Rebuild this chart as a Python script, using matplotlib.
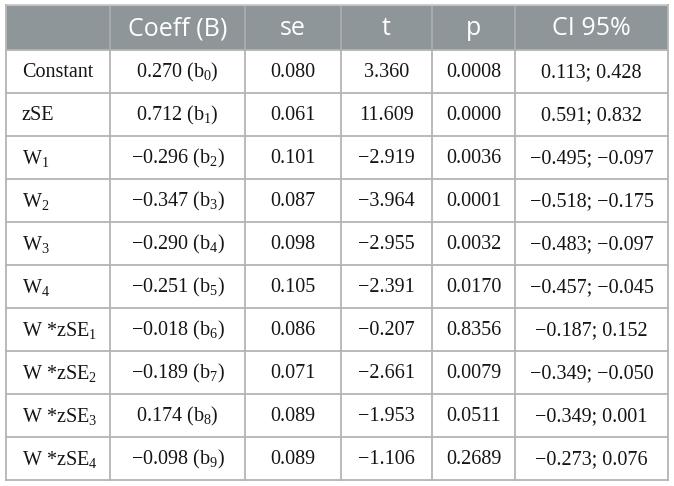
import matplotlib
matplotlib.use("Agg")
import matplotlib.pyplot as plt
from matplotlib.patches import Rectangle

# regression table values
headers = ["", "Coeff (B)", "se", "t", "p", "CI 95%"]
row_labels = ["Constant", "zSE", "W$_1$", "W$_2$", "W$_3$", "W$_4$",
              "W *zSE$_1$", "W *zSE$_2$", "W *zSE$_3$", "W *zSE$_4$"]
coeff = [0.270, 0.712, -0.296, -0.347, -0.290, -0.251, -0.018, -0.189, 0.174, -0.098]
coeff_idx = [0, 1, 2, 3, 4, 5, 6, 7, 8, 9]
se = [0.080, 0.061, 0.101, 0.087, 0.098, 0.105, 0.086, 0.071, 0.089, 0.089]
t_val = [3.360, 11.609, -2.919, -3.964, -2.955, -2.391, -0.207, -2.661, -1.953, -1.106]
p_val = [0.0008, 0.0000, 0.0036, 0.0001, 0.0032, 0.0170, 0.8356, 0.0079, 0.0511, 0.2689]
ci_low = [0.113, 0.591, -0.495, -0.518, -0.483, -0.457, -0.187, -0.349, -0.349, -0.273]
ci_high = [0.428, 0.832, -0.097, -0.175, -0.097, -0.045, 0.152, -0.050, 0.001, 0.076]

W, H = 674, 486
col_x = [6, 110, 245, 341, 432, 515, 668]
top, head_bot, row_h = 5, 50, 43
HEAD_BG, HEAD_SEP, GRID = "#8e9699", "#a8aeb0", "#b4b4b4"

plt.rcParams.update({"font.family": "Liberation Serif", "mathtext.default": "regular"})

f = lambda v, d=3: ("%.*f" % (d, v)).replace("-", "\u2212")

fig = plt.figure(figsize=(W / 100, H / 100), dpi=100)
ax = fig.add_axes([0, 0, 1, 1])
ax.set_xlim(0, W)
ax.set_ylim(H, 0)
ax.axis("off")

n = len(row_labels)
bottom = head_bot + n * row_h

ax.add_patch(Rectangle((col_x[0], top), col_x[-1] - col_x[0], head_bot - top,
                       facecolor=HEAD_BG, edgecolor="none", zorder=1))
for j, h in enumerate(headers):
    if not h:
        continue
    cx = (col_x[j] + col_x[j + 1]) / 2
    ax.text(cx, (top + head_bot) / 2 + 1, h, ha="center", va="center",
            color="white", fontsize=18, family="Open Sans", zorder=3)

for i in range(n):
    cy = head_bot + (i + 0.5) * row_h + 1
    cells = [row_labels[i],
             "%s (b$_{%d}$)" % (f(coeff[i]), coeff_idx[i]),
             f(se[i]), f(t_val[i]), f(p_val[i], 4),
             "%s; %s" % (f(ci_low[i]), f(ci_high[i]))]
    for j, s in enumerate(cells):
        if j == 0:
            ax.text(col_x[0] + 16, cy, s, ha="left", va="center", fontsize=14.5, color="#151515")
        else:
            ax.text((col_x[j] + col_x[j + 1]) / 2, cy, s, ha="center", va="center",
                    fontsize=14.5, color="#151515")

# grid
for k in range(n + 1):
    y = head_bot + k * row_h
    ax.plot([col_x[0], col_x[-1]], [y, y], color=GRID, lw=1.3, zorder=2)
for x in col_x:
    ax.plot([x, x], [head_bot, bottom], color=GRID, lw=1.3, zorder=2)
for x in col_x[1:-1]:
    ax.plot([x, x], [top, head_bot], color=HEAD_SEP, lw=1.3, zorder=2)
ax.plot([col_x[0], col_x[-1]], [top, top], color="#c8c8c8", lw=1.3, zorder=2)
for x in (col_x[0], col_x[-1]):
    ax.plot([x, x], [top, head_bot], color="#b8b8b8", lw=1.3, zorder=2)

fig.savefig("out.png", dpi=100)
